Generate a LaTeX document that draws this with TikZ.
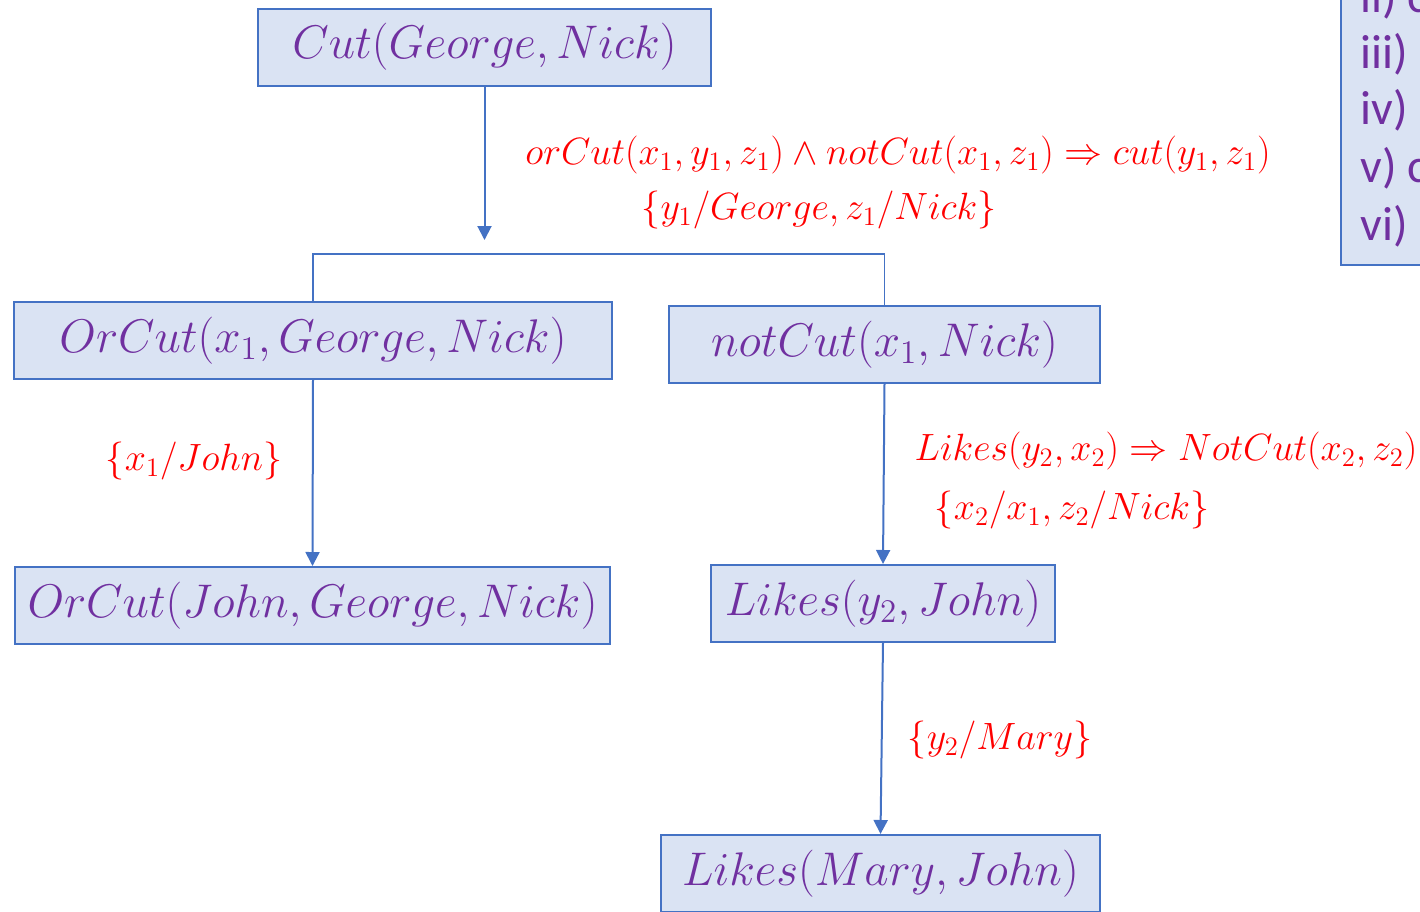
\RequirePackage{fix-cm}
\documentclass[tikz,border=0pt]{standalone}
\usepackage{amsmath,amssymb}
\usepackage{fontspec}
\newfontfamily\carlito{Carlito}
\usetikzlibrary{arrows.meta}
\definecolor{boxfill}{HTML}{DAE3F3}
\definecolor{boxline}{HTML}{4472C4}
\definecolor{nodetext}{HTML}{7030A0}
\definecolor{lblred}{HTML}{FF0000}
\tikzset{
  termbox/.style={draw=boxline, line width=1pt, fill=boxfill, inner sep=0pt,
    minimum height=38.5pt, text=nodetext, font=\fontsize{23.6}{28}\selectfont},
  arr/.style={draw=boxline, line width=1pt, -{Triangle[width=7pt,length=7pt]}},
  bracket/.style={draw=boxline, line width=0.8pt},
  lbl/.style={text=lblred, inner sep=0pt, font=\fontsize{19}{23}\selectfont},
  listtxt/.style={text=nodetext, anchor=west, inner sep=0pt, font=\carlito\fontsize{24}{28}\selectfont}
}
\begin{document}
\begin{tikzpicture}[x=0.5pt, y=-0.5pt]
\useasboundingbox (0,0) rectangle (1420,911);
% nodes
\node[termbox, minimum width=226.5pt] (n1) at (484.5,47) {$Cut(George, Nick)$};
\node[termbox, minimum width=299pt] (n2) at (313,340.5) {$OrCut(x_1, George, Nick)$};
\node[termbox, minimum width=215.5pt] (n3) at (884.5,344.5) {$notCut(x_1, Nick)$};
\node[termbox, minimum width=297.5pt] (n4) at (312.5,605.5) {$OrCut(John, George, Nick)$};
\node[termbox, minimum width=172pt] (n5) at (883,603.5) {$Likes(y_2, John)$};
\node[termbox, minimum width=219.5pt] (n6) at (880.5,873.5) {$Likes(Mary, John)$};
% connectors
\coordinate (j) at (484.5,240);
\coordinate (br) at (600,254);
\draw[arr] (n1.south) -- (j);
\draw[bracket] (n2.north) |- (br) -| (n3.north);
\draw[arr] (n2.south) -- (n4.north);
\draw[arr] (n3.south) -- (n5.north);
\draw[arr] (n5.south) -- (n6.north);
% labels
\node[lbl] (l1) at (898,155) {$orCut(x_1, y_1, z_1) \wedge notCut(x_1, z_1) \Rightarrow cut(y_1, z_1)$};
\node[lbl] (l2) at (819,210) {$\{y_1/George, z_1/Nick\}$};
\node[lbl] (l3) at (194,461) {$\{x_1/John\}$};
\node[lbl] (l4) at (1166,451) {$Likes(y_2, x_2) \Rightarrow NotCut(x_2, z_2)$};
\node[lbl] (l5) at (1072,510) {$\{x_2/x_1, z_2/Nick\}$};
\node[lbl] (l6) at (1000,740) {$\{y_2/Mary\}$};
% partial list box at the right edge
\node[draw=boxline, line width=1pt, fill=boxfill, minimum width=60pt, minimum height=150pt, anchor=south west, inner sep=0pt] (lb) at (1340,266) {};
\node[listtxt] (i2) at (1360,-2) {ii) c};
\node[listtxt] (i3) at (1360,54) {iii)};
\node[listtxt] (i4) at (1360,110) {iv)};
\node[listtxt] (i5) at (1360,168) {v) c};
\node[listtxt] (i6) at (1360,226) {vi)};
\end{tikzpicture}
\end{document}
